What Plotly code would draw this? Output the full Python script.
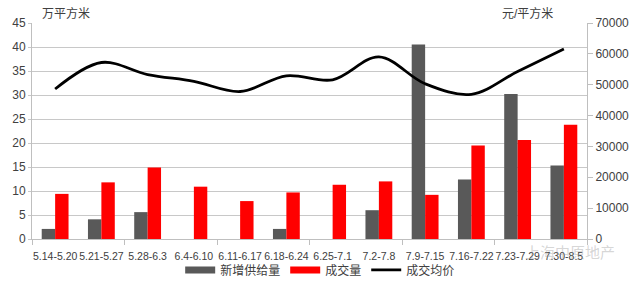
import plotly.graph_objects as go

categories = ["5.14-5.20", "5.21-5.27", "5.28-6.3", "6.4-6.10", "6.11-6.17", "6.18-6.24",
              "6.25-7.1", "7.2-7.8", "7.9-7.15", "7.16-7.22", "7.23-7.29", "7.30-8.5"]
supply = [2.1, 4.1, 5.6, 0, 0, 2.1, 0, 6.0, 40.5, 12.4, 30.2, 15.3]
deals = [9.4, 11.8, 14.9, 10.9, 7.9, 9.7, 11.3, 12.0, 9.2, 19.5, 20.6, 23.8]
avg_price = [48600, 57200, 53300, 51100, 47800, 52900, 51600, 59000, 50300, 46900, 54300, 61600]
left_ticks = list(range(0, 50, 5))
right_ticks = list(range(0, 80000, 10000))

x = list(range(len(categories)))
FONT = "Liberation Sans, Noto Sans CJK SC"
GRAY = "#595959"
RED = "#FF0000"
TXT = "#404040"

fig = go.Figure()
fig.add_trace(go.Bar(x=x, y=supply, name="新增供给量", marker_color=GRAY,
                     marker_line_width=0, showlegend=False))
fig.add_trace(go.Bar(x=x, y=deals, name="成交量", marker_color=RED,
                     marker_line_width=0, showlegend=False))
fig.add_trace(go.Scatter(x=x, y=avg_price, name="成交均价", mode="lines", yaxis="y2",
                         line=dict(color="black", width=2.8, shape="spline", smoothing=1.0),
                         showlegend=False))
# legend entries
fig.add_trace(go.Scatter(x=[None], y=[None], mode="lines", name="新增供给量",
                         line=dict(color=GRAY, width=7)))
fig.add_trace(go.Scatter(x=[None], y=[None], mode="lines", name="成交量",
                         line=dict(color=RED, width=7)))
fig.add_trace(go.Scatter(x=[None], y=[None], mode="lines", name="成交均价",
                         line=dict(color="black", width=2.8)))

fig.update_layout(
    width=640, height=283,
    margin=dict(l=32, r=53, t=23, b=44, autoexpand=False),
    paper_bgcolor="white", plot_bgcolor="white",
    font=dict(family=FONT, size=11, color=TXT),
    barmode="group", bargap=0.42, bargroupgap=0,
    xaxis=dict(range=[-0.5, len(categories) - 0.5], tickmode="array", tickvals=x,
               ticktext=categories, ticks="", showgrid=False, zeroline=False,
               showline=True, linecolor="#bfbfbf", linewidth=1, tickangle=0,
               automargin=False, ticklabelstandoff=7,
               tickfont=dict(size=10.5, color=TXT),
               minor=dict(tick0=-0.5, dtick=2, ticks="outside", ticklen=5,
                          tickcolor="#bfbfbf", showgrid=False)),
    yaxis=dict(range=[0, 45], tickmode="array", tickvals=left_ticks, automargin=False,
               showgrid=True, gridcolor="#c8c8c8", gridwidth=1, zeroline=False,
               showline=True, linecolor="#bfbfbf", ticks="outside", ticklen=3,
               tickcolor="#c8c8c8", tickfont=dict(size=12, color=TXT)),
    yaxis2=dict(range=[0, 70000], tickmode="array", tickvals=right_ticks,
                ticktext=[str(v) for v in right_ticks], automargin=False,
                overlaying="y", side="right", showgrid=False, zeroline=False,
                showline=True, linecolor="#bfbfbf", ticks="outside", ticklen=5,
                tickcolor="#bfbfbf", tickfont=dict(size=12, color=TXT)),
    legend=dict(orientation="h", x=0.267, xanchor="left", y=-0.143, yanchor="middle",
                font=dict(size=12, color=TXT), itemwidth=30, tracegroupgap=0,
                bgcolor="rgba(0,0,0,0)"),
    annotations=[
        dict(text="万平方米", x=40, y=14, xref="paper", yref="paper", showarrow=False,
             font=dict(size=12, color=TXT), xanchor="left", yanchor="middle"),
        dict(text="元/平方米", x=500, y=14, showarrow=False,
             font=dict(size=12, color=TXT), xanchor="left", yanchor="middle"),
        dict(text="上海中原地产", x=617, y=252, showarrow=False,
             font=dict(size=15, color="rgba(150,150,150,0.4)"),
             xanchor="right", yanchor="middle"),
    ],
)
# convert pixel-positioned annotations to paper coords
pw, ph = 640 - 32 - 53, 283 - 23 - 44
for a in fig.layout.annotations:
    a.xref = "paper"; a.yref = "paper"
    a.x = (a.x - 32) / pw
    a.y = (283 - 44 - a.y) / ph
fig.write_html("out.html")
